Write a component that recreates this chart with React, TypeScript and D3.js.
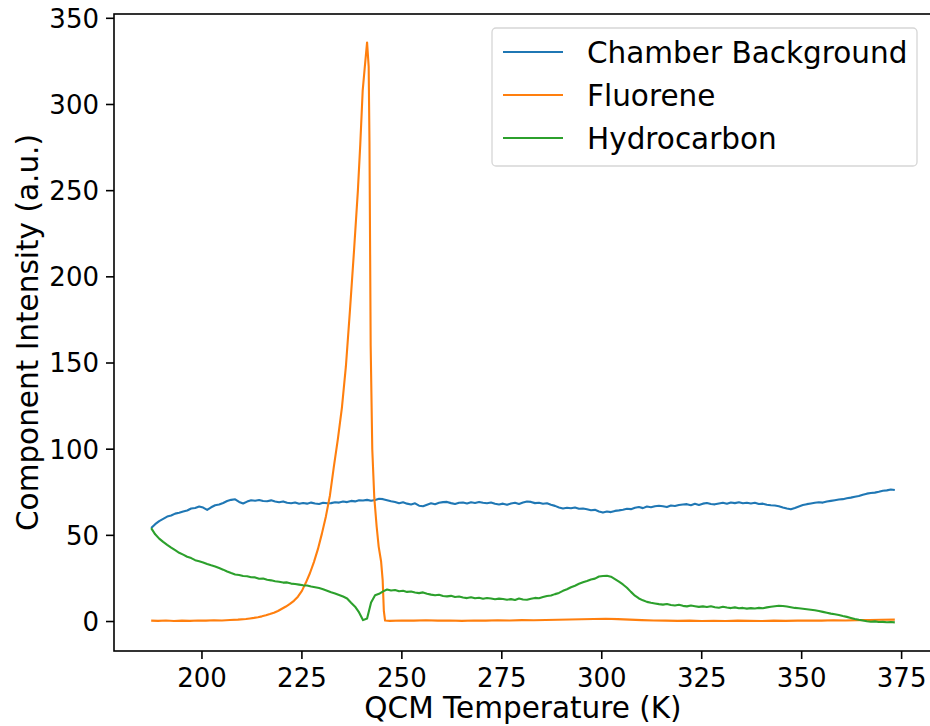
import React from "react";
import * as d3 from "d3";

// Shared temperature grid (K) for the chamber background and hydrocarbon components
const temperatureK = d3.range(187.3, 373.35, 1);

const chamberBackground = [
  54.2, 56.5, 58.3, 59.6, 60.9, 61.5, 62.6, 63.1, 63.8, 64.4,
  65.6, 65.9, 66.7, 66.1, 64.8, 66.3, 67.5, 67.9, 68.8, 69.9,
  70.6, 70.9, 69.4, 68.5, 69.6, 70.4, 70.1, 70.5, 69.9, 69.8,
  70.3, 69.6, 69.2, 69.7, 68.9, 68.6, 69.1, 68.3, 68.8, 68.4,
  69.0, 68.5, 68.2, 68.9, 68.6, 68.7, 69.2, 69.0, 69.6, 69.3,
  70.0, 69.7, 70.4, 70.2, 70.6, 70.1, 70.5, 71.2, 71.0, 70.4,
  69.8, 69.3, 68.6, 69.2, 68.4, 67.9, 68.6, 67.2, 66.9, 67.8,
  68.6, 68.1, 68.9, 69.3, 69.4, 68.7, 68.2, 68.9, 69.1, 68.5,
  69.2, 68.8, 69.4, 68.9, 68.6, 69.1, 68.3, 67.9, 68.4, 67.7,
  68.5, 68.9, 68.2, 69.0, 69.6, 69.4, 68.7, 68.9, 68.3, 68.6,
  67.7, 67.1, 66.2, 65.6, 66.0, 65.7, 66.2, 65.4, 65.6, 65.1,
  64.6, 64.8, 63.9, 63.2, 63.8, 63.5, 64.2, 64.5, 64.9, 65.4,
  65.2, 66.0, 66.4, 65.8, 66.7, 66.3, 66.9, 67.2, 66.9, 66.4,
  67.3, 67.0, 67.6, 67.9, 68.1, 67.5, 68.3, 67.6, 68.4, 68.8,
  68.2, 68.0, 68.5, 68.9, 68.3, 69.1, 68.7, 69.2, 68.6, 68.9,
  68.5, 68.9, 68.2, 68.4, 67.8, 67.5, 67.3, 66.9, 66.2, 65.6,
  65.1, 65.9, 66.8, 67.6, 68.1, 68.5, 68.9, 69.2, 69.0, 69.6,
  70.0, 70.4, 70.8, 71.0, 71.5, 71.9, 72.4, 72.8, 73.6, 74.2,
  74.6, 74.8, 75.3, 75.9, 76.1, 76.6, 76.3,
];

const hydrocarbon = [
  54.2, 50.6, 48.1, 46.2, 44.5, 42.9, 41.4, 39.9, 38.8, 37.6,
  36.8, 35.6, 35.0, 34.3, 33.4, 32.6, 31.9, 31.0, 30.1, 29.0,
  28.1, 27.3, 27.0, 26.4, 26.3, 25.7, 25.6, 24.8, 24.9, 24.2,
  23.9, 23.4, 23.1, 22.6, 22.7, 22.0, 21.8, 21.4, 21.0, 20.9,
  20.3, 19.9, 19.4, 18.7, 17.9, 17.0, 16.3, 15.4, 14.5, 13.4,
  10.9, 8.6, 5.3, 0.8, 1.8, 11.0, 15.2, 16.1, 17.5, 18.6,
  18.0, 18.3, 17.6, 17.9, 17.2, 17.4, 16.8, 16.5, 16.9, 16.1,
  15.6, 15.2, 15.5, 14.8, 14.6, 14.9, 14.2, 14.5, 13.9, 13.6,
  14.1, 13.5, 13.8, 13.2, 13.7, 13.4, 12.9, 13.3, 13.1, 12.6,
  13.0, 12.5, 13.4, 12.8, 12.6, 13.2, 13.7, 13.5, 14.2, 14.8,
  15.1, 15.9, 16.6, 17.8, 18.7, 19.9, 20.8, 21.9, 22.8, 23.5,
  24.4, 24.9, 26.1, 26.4, 26.6, 26.0, 24.6, 23.1, 21.5, 19.6,
  17.2, 15.0, 13.4, 12.3, 11.4, 10.9, 10.5, 10.1, 9.8, 10.2,
  9.6, 9.3, 9.7, 9.1, 8.8, 9.3, 8.9, 8.5, 8.8, 8.4,
  8.9, 8.3, 8.0, 8.6, 8.1, 7.8, 8.2, 7.7, 7.9, 7.5,
  7.8, 7.6, 7.9, 7.7, 8.2, 8.6, 8.9, 9.2, 9.0, 8.7,
  8.3, 7.9, 7.7, 7.4, 7.1, 6.8, 6.5, 6.1, 5.6, 5.1,
  4.6, 4.2, 3.8, 3.2, 2.7, 2.1, 1.5, 1.0, 0.6, 0.2,
  -0.1, 0.1, -0.3, -0.2, -0.4, -0.3, -0.5,
];

// Fluorene is sampled more finely through its desorption peak
const fluoreneTemperatureK = [
  187.3, 189, 191, 193, 195, 197, 199, 201, 203, 205,
  207, 209, 211, 212, 213, 214, 215, 216, 217, 218,
  219, 220, 221, 222, 223, 224, 225, 226, 227, 228,
  229, 230, 231, 232, 233, 234, 235, 236, 237, 238,
  239, 239.6, 240.2, 240.7, 241.3, 241.7, 241.9, 242.2, 242.6, 243.1,
  243.7, 244.2, 244.8, 245.2, 245.5, 245.8, 247, 250, 253, 256,
  259, 262, 265, 268, 271, 274, 277, 280, 283, 286,
  289, 292, 295, 298, 301, 304, 307, 310, 313, 316,
  319, 322, 325, 328, 331, 334, 337, 340, 343, 346,
  349, 352, 355, 358, 361, 364, 367, 370, 373.3,
];

const fluorene = [
  0.5, 0.4, 0.6, 0.3, 0.5, 0.4, 0.6, 0.5, 0.7, 0.6,
  0.9, 1.1, 1.5, 1.8, 2.1, 2.5, 3.0, 3.6, 4.3, 5.1,
  6.1, 7.4, 8.7, 10.2, 12.0, 14.4, 17.8, 22.6, 28.0, 34.5,
  42.0, 51.0, 61.0, 73.0, 90.0, 106.0, 124.0, 148.0, 180.0, 214.0,
  250.0, 277.0, 308.0, 321.0, 336.0, 322.0, 278.0, 160.0, 100.0, 72.0,
  55.0, 43.5, 35.0, 24.0, 6.0, 0.6, 0.4, 0.6, 0.5, 0.7,
  0.5, 0.6, 0.4, 0.6, 0.5, 0.7, 0.6, 0.8, 0.7, 0.9,
  1.0, 1.2, 1.3, 1.5, 1.6, 1.4, 1.1, 0.8, 0.6, 0.5,
  0.4, 0.5, 0.3, 0.4, 0.3, 0.5, 0.4, 0.3, 0.5, 0.4,
  0.5, 0.6, 0.5, 0.7, 0.6, 0.8, 0.9, 1.0, 1.1,
];

const xTicks = [200, 225, 250, 275, 300, 325, 350, 375];
const yTicks = [0, 50, 100, 150, 200, 250, 300, 350];

const seriesNames = ["Chamber Background", "Fluorene", "Hydrocarbon"];
const seriesColors = ["#1f77b4", "#ff7f0e", "#2ca02c"];

const xLabel = "QCM Temperature (K)";
const yLabel = "Component Intensity (a.u.)";

const WIDTH = 930;
const HEIGHT = 726;
const FONT = "'DejaVu Sans', 'Liberation Sans', sans-serif";
const TICK_FONT = 26;
const LABEL_FONT = 29.5;

export default function App() {
  const plot = { left: 114, right: 932, top: 14, bottom: 651 };

  const x = d3.scaleLinear().domain([178.0, 382.6]).range([plot.left, plot.right]);
  const y = d3.scaleLinear().domain([-17.1, 352.5]).range([plot.bottom, plot.top]);

  const line = d3
    .line<[number, number]>()
    .x((d) => x(d[0]))
    .y((d) => y(d[1]));

  const series: [number, number][][] = [
    temperatureK.map((t, i) => [t, chamberBackground[i]] as [number, number]),
    fluoreneTemperatureK.map((t, i) => [t, fluorene[i]] as [number, number]),
    temperatureK.map((t, i) => [t, hydrocarbon[i]] as [number, number]),
  ];

  const legend = { x: 492, y: 28, w: 425, h: 138, rowGap: 43, firstRow: 52 };

  return (
    <svg
      width={WIDTH}
      height={HEIGHT}
      style={{ position: "absolute", left: 0, top: 0, background: "#fff" }}
      fontFamily={FONT}
    >
      <rect width={WIDTH} height={HEIGHT} fill="#fff" />

      <defs>
        <clipPath id="plot-clip">
          <rect
            x={plot.left}
            y={plot.top}
            width={plot.right - plot.left}
            height={plot.bottom - plot.top}
          />
        </clipPath>
      </defs>

      {/* data lines */}
      <g clipPath="url(#plot-clip)">
        {series.map((s, i) => (
          <path
            key={seriesNames[i]}
            d={line(s) ?? ""}
            fill="none"
            stroke={seriesColors[i]}
            strokeWidth={2.1}
            strokeLinejoin="round"
          />
        ))}
      </g>

      {/* axes frame */}
      <rect
        x={plot.left}
        y={plot.top}
        width={plot.right - plot.left}
        height={plot.bottom - plot.top}
        fill="none"
        stroke="#000"
        strokeWidth={1.6}
      />

      {/* x axis ticks */}
      {xTicks.map((t) => (
        <g key={`x${t}`} transform={`translate(${x(t)},0)`}>
          <line y1={plot.bottom} y2={plot.bottom + 8} stroke="#000" strokeWidth={1.6} />
          <text y={687} textAnchor="middle" fontSize={TICK_FONT} fill="#000">
            {t}
          </text>
        </g>
      ))}

      {/* y axis ticks */}
      {yTicks.map((v) => (
        <g key={`y${v}`} transform={`translate(0,${y(v)})`}>
          <line x1={plot.left - 8} x2={plot.left} stroke="#000" strokeWidth={1.6} />
          <text x={99} dy="0.36em" textAnchor="end" fontSize={TICK_FONT} fill="#000">
            {v}
          </text>
        </g>
      ))}

      {/* axis titles */}
      <text
        x={(plot.left + plot.right) / 2}
        y={718}
        textAnchor="middle"
        fontSize={LABEL_FONT}
        fill="#000"
      >
        {xLabel}
      </text>
      <text
        transform={`translate(38,${(plot.top + plot.bottom) / 2}) rotate(-90)`}
        textAnchor="middle"
        fontSize={LABEL_FONT}
        fill="#000"
      >
        {yLabel}
      </text>

      {/* legend */}
      <g>
        <rect
          x={legend.x}
          y={legend.y}
          width={legend.w}
          height={legend.h}
          rx={4}
          fill="#fff"
          fillOpacity={0.8}
          stroke="#d6d6d6"
          strokeWidth={1.3}
        />
        {seriesNames.map((name, i) => {
          const ly = legend.firstRow + i * legend.rowGap;
          return (
            <g key={name}>
              <line x1={503} x2={563} y1={ly} y2={ly} stroke={seriesColors[i]} strokeWidth={2.1} />
              <text x={587} y={ly} dy="0.36em" fontSize={LABEL_FONT} fill="#000">
                {name}
              </text>
            </g>
          );
        })}
      </g>
    </svg>
  );
}
